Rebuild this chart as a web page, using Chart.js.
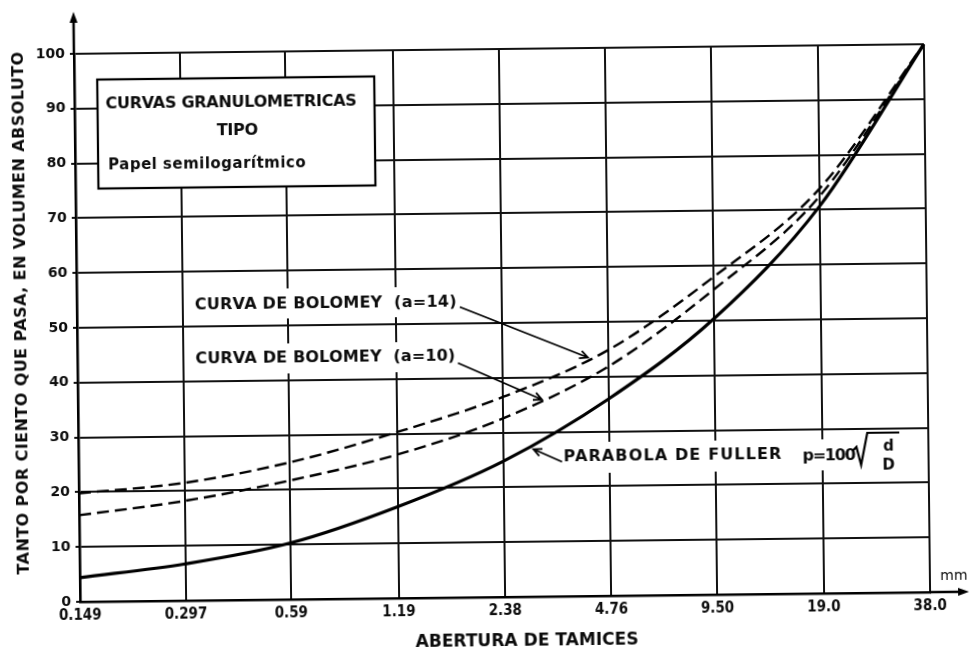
<!DOCTYPE html>
<html>
<head>
<meta charset="utf-8">
<script src="https://cdn.jsdelivr.net/npm/chart.js@4.4.1/dist/chart.umd.min.js"></script>
<style>
  html, body { margin: 0; padding: 0; background: #fff; }
  #wrap { width: 971px; height: 653px; overflow: hidden; background: #fff; }
  /* the printed sheet sits slightly askew */
  #c { display: block; transform: rotate(-0.65deg); transform-origin: 502px 323px; }
</style>
</head>
<body>
<div id="wrap"><canvas id="c" width="971" height="653"></canvas></div>
<script>
// Sieve openings (mm) and their printed labels
const sieveSizes  = [0.149, 0.297, 0.59, 1.19, 2.38, 4.76, 9.50, 19.0, 38.0];
const sieveLabels = ['0.149', '0.297', '0.59', '1.19', '2.38', '4.76', '9.50', '19.0', '38.0'];

// Percent passing (absolute volume) for each curve
const fullerPassing    = [4.4, 6.7, 10.3, 16.7, 24.8, 36.0, 50.4, 70.6, 100];
const bolomey14Passing = [19.8, 21.5, 25.0, 30.3, 36.5, 44.9, 58.0, 73.8, 100];
const bolomey10Passing = [15.8, 18.2, 21.7, 26.2, 32.6, 41.9, 55.7, 72.4, 100];

// Percent axis ticks
const percentTicks = [0, 10, 20, 30, 40, 50, 60, 70, 80, 90, 100];

const SANS = "'DejaVu Sans', 'Liberation Sans', sans-serif";
const COND = "'DejaVu Sans Condensed', 'Liberation Sans Narrow', 'DejaVu Sans', sans-serif";
const INK = '#0d0d0d';

const toPoints = vals => sieveSizes.map((s, i) => ({ x: s, y: vals[i] }));

// Text stretched to a given width by letter spacing
function spacedText(ctx, text, x, y, width) {
  ctx.textAlign = 'left';
  const natural = ctx.measureText(text).width;
  if ('letterSpacing' in ctx) {
    const extra = (width - natural) / text.length;
    ctx.letterSpacing = extra.toFixed(2) + 'px';
    ctx.fillText(text, x, y);
    ctx.letterSpacing = '0px';
  } else {
    const extra = (width - natural) / Math.max(1, text.length - 1);
    let cx = x;
    for (const ch of text) {
      ctx.fillText(ch, cx, y);
      cx += ctx.measureText(ch).width + extra;
    }
  }
}

function arrow(ctx, x1, y1, x2, y2) {
  ctx.beginPath();
  ctx.moveTo(x1, y1);
  ctx.lineTo(x2, y2);
  const a = Math.atan2(y2 - y1, x2 - x1);
  const L = 9, w = 0.45;
  ctx.moveTo(x2 - L * Math.cos(a - w), y2 - L * Math.sin(a - w));
  ctx.lineTo(x2, y2);
  ctx.lineTo(x2 - L * Math.cos(a + w), y2 - L * Math.sin(a + w));
  ctx.stroke();
}

function whiteRect(ctx, x, y, w, h) {
  ctx.fillStyle = '#fff';
  ctx.fillRect(x, y, w, h);
}

const decorations = {
  id: 'decorations',
  afterDraw(chart) {
    const ctx = chart.ctx;
    const { left, right, top, bottom } = chart.chartArea;
    ctx.save();
    ctx.strokeStyle = '#000';
    ctx.fillStyle = INK;
    ctx.textBaseline = 'middle';

    // axis extensions with arrow heads
    ctx.lineWidth = 2.5;
    ctx.beginPath();
    ctx.moveTo(left, top);
    ctx.lineTo(left, 14);
    ctx.moveTo(right, bottom);
    ctx.lineTo(958, bottom);
    ctx.stroke();
    ctx.fillStyle = '#000';
    ctx.beginPath();
    ctx.moveTo(left, 7); ctx.lineTo(left - 4, 18); ctx.lineTo(left + 4, 18); ctx.closePath();
    ctx.fill();
    ctx.beginPath();
    ctx.moveTo(966, bottom); ctx.lineTo(955, bottom - 4); ctx.lineTo(955, bottom + 4); ctx.closePath();
    ctx.fill();

    ctx.fillStyle = INK;
    ctx.font = '14px ' + SANS;
    ctx.textAlign = 'center';
    ctx.fillText('mm', 951, 581);

    // axis titles
    ctx.font = 'bold 17px ' + SANS;
    spacedText(ctx, 'ABERTURA DE TAMICES', 523 - 111, 642, 223);
    ctx.save();
    ctx.translate(22, 308);
    ctx.rotate(-Math.PI / 2);
    ctx.font = 'bold 16px ' + SANS;
    spacedText(ctx, 'TANTO POR CIENTO QUE PASA, EN VOLUMEN ABSOLUTO', -261, 0, 523);
    ctx.restore();

    // title box
    whiteRect(ctx, 100, 75, 277, 109);
    ctx.lineWidth = 2.2;
    ctx.strokeStyle = '#000';
    ctx.strokeRect(100, 75, 277, 109);
    ctx.fillStyle = INK;
    ctx.font = 'bold 16px ' + SANS;
    spacedText(ctx, 'CURVAS GRANULOMETRICAS', 108, 100, 251);
    spacedText(ctx, 'TIPO', 219, 128, 41);
    ctx.font = 'bold 15px ' + SANS;
    spacedText(ctx, 'Papel semilogarítmico', 110, 161, 198);

    // curve labels
    ctx.font = 'bold 16px ' + SANS;
    whiteRect(ctx, 190, 286, 270, 30);
    whiteRect(ctx, 190, 341, 270, 30);
    whiteRect(ctx, 558, 443, 342, 31);
    ctx.fillStyle = INK;
    spacedText(ctx, 'CURVA DE BOLOMEY  (a=14)', 195, 302, 262);
    spacedText(ctx, 'CURVA DE BOLOMEY  (a=10)', 195, 356, 260);
    spacedText(ctx, 'PARABOLA DE FULLER', 562, 458, 219);
    spacedText(ctx, 'p=100', 801, 460, 52);

    ctx.lineWidth = 1.8;
    ctx.strokeStyle = '#000';
    arrow(ctx, 460, 306.5, 587.5, 358.5);
    arrow(ctx, 457.5, 362.5, 541, 400);
    arrow(ctx, 560.5, 462.5, 532, 449.5);

    // radical sign with d / D
    ctx.lineWidth = 2.2;
    ctx.beginPath();
    ctx.moveTo(851, 455);
    ctx.lineTo(855, 451);
    ctx.lineTo(859.5, 469);
    ctx.lineTo(866, 437);
    ctx.lineTo(898, 437);
    ctx.stroke();
    ctx.font = 'bold 15px ' + SANS;
    ctx.textAlign = 'center';
    ctx.fillText('d', 887, 451);
    ctx.fillText('D', 887, 470);

    ctx.restore();
  }
};

new Chart(document.getElementById('c'), {
  type: 'line',
  data: {
    datasets: [
      {
        label: 'Parábola de Fuller',
        data: toPoints(fullerPassing),
        borderColor: '#000',
        borderWidth: 3.2,
        pointRadius: 0,
        cubicInterpolationMode: 'monotone',
        clip: false
      },
      {
        label: 'Curva de Bolomey (a=14)',
        data: toPoints(bolomey14Passing),
        borderColor: '#000',
        borderWidth: 2.4,
        borderDash: [12, 6],
        pointRadius: 0,
        cubicInterpolationMode: 'monotone',
        clip: false
      },
      {
        label: 'Curva de Bolomey (a=10)',
        data: toPoints(bolomey10Passing),
        borderColor: '#000',
        borderWidth: 2.4,
        borderDash: [12, 6],
        pointRadius: 0,
        cubicInterpolationMode: 'monotone',
        clip: false
      }
    ]
  },
  options: {
    responsive: false,
    animation: false,
    devicePixelRatio: 1,
    layout: { padding: { top: 49, right: 44, left: 0, bottom: 0 } },
    plugins: { legend: { display: false }, tooltip: { enabled: false } },
    scales: {
      x: {
        type: 'logarithmic',
        min: 0.149,
        max: 38,
        afterBuildTicks: s => { s.ticks = sieveSizes.map(v => ({ value: v })); },
        afterFit: s => { s.height = 56; },
        ticks: {
          callback: (v, i) => sieveLabels[i],
          font: { family: COND, size: 15, weight: 'bold' },
          color: INK,
          padding: 5,
          maxRotation: 0,
          autoSkip: false
        },
        grid: { color: '#111', lineWidth: 2, drawTicks: false },
        border: { display: true, color: '#000', width: 2.6 }
      },
      y: {
        min: 0,
        max: 100,
        afterBuildTicks: s => { s.ticks = percentTicks.map(v => ({ value: v })); },
        afterFit: s => { s.width = 77; },
        ticks: {
          font: { family: SANS, size: 14, weight: 'bold' },
          color: INK,
          padding: 5
        },
        grid: { color: '#111', lineWidth: 2, tickLength: 4 },
        border: { display: true, color: '#000', width: 2.6 }
      }
    }
  },
  plugins: [decorations]
});
</script>
</body>
</html>
